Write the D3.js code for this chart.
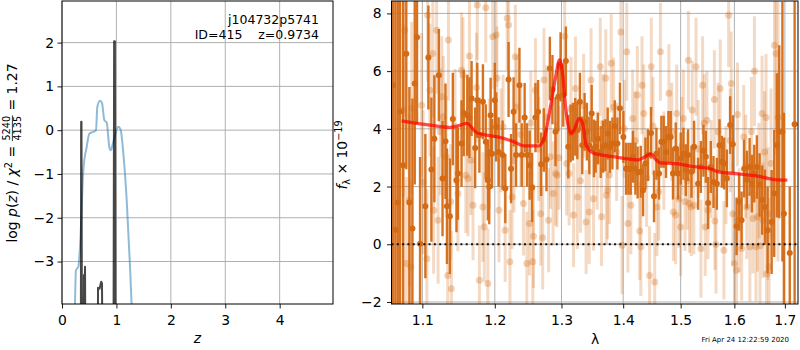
<!DOCTYPE html>
<html><head><meta charset="utf-8">
<script src="https://cdn.jsdelivr.net/npm/d3@7"></script>
<style>body{margin:0;background:#fff} svg{display:block} text{font-family:"DejaVu Sans",sans-serif;fill:#000}</style>
</head><body><svg id="c" width="800" height="350"></svg>
<script>
// ---------------- data: left panel (redshift PDF) ----------------
const zTicks = [0, 1, 2, 3, 4];
const logpTicks = [-3, -2, -1, 0, 1, 2];
const pdfZ = [0.235,0.257,0.30,0.331,0.392,0.454,0.502,0.575,0.625,0.649,0.699,0.735,0.778,0.822,0.869,0.895,0.943,1.035,1.079,1.127,1.189,1.25,1.29];
const pdfLogp = [-4.2,-3.2,-3.12,-2.66,-0.91,-0.38,-0.08,-0.04,0.0,0.53,0.67,0.62,0.23,0.17,-0.38,-0.46,-0.27,0.08,0.0,-0.53,-1.6,-3.12,-4.3];
const chiZ = [0.32,0.345,0.352,0.358,0.368,0.395,0.403,0.413,0.423,0.433,0.655,0.662,0.69,0.72,0.735,0.748,0.945,0.958,0.965,0.972,0.985,1.0,1.05];
const chiLogp = [-6,-6,0.19,0.19,-6,-6,-3.31,-3.65,-3.12,-6,-6,-3.6,-3.62,-3.46,-3.5,-6,-6,2.03,2.03,2.03,-6,-6,-6];

// ---------------- data: right panel (spectrum) ----------------
const waveTicks = [1.1, 1.2, 1.3, 1.4, 1.5, 1.6, 1.7];
const fluxTicks = [-2, 0, 2, 4, 6, 8];
const darkWave = [
1.062,1.065,1.068,1.071,1.075,1.079,1.083,1.087,1.090,1.093,
1.097,1.104,1.108,1.112,1.116,1.122,1.127,1.131,1.133,1.137,
1.141,1.146,1.148,1.153,1.156,1.161,1.164,1.167,1.172,1.175,
1.178,1.183,1.187,1.190,1.192,1.194,1.196,1.200,1.202,1.2055,
1.2113,1.2152,1.220,1.2236,1.2274,1.231,1.236,1.2394,1.2438,1.2474,
1.2513,1.255,1.260,1.264,1.2687,1.2727,1.2768,1.282,1.286,1.2907,
1.295,1.2986,1.3028,1.3069,1.3107,1.3143,1.318,1.3217,1.325,1.3291,
1.3329,1.3366,1.3403,1.3442,1.348,1.3517,1.3545,1.3582,1.3627,1.3665,
1.3705,1.3742,1.378,1.382,1.3859,1.3903,1.3946,1.4003,1.4048,1.4089,
1.4127,1.4166,1.4207,1.4245,1.4298,1.4338,1.4379,1.4424,1.4476,1.4528,
1.457,1.4615,1.4657,1.4698,1.4739,1.4782,1.4822,1.4863,1.4912,1.4953,
1.5002,1.5051,1.5093,1.5135,1.5197,1.5244,1.5317,1.5368,1.5417,1.546,
1.5503,1.5553,1.5604,1.5667,1.5717,1.5761,1.5805,1.5856,1.5919,1.597,
1.6042,1.6092,1.6139,1.6189,1.6242,1.6295,1.634,1.6386,1.6438,1.6492,
1.6543,1.6598,1.6651,1.6732,1.6784,1.6838,1.6885,1.695,1.698,1.710,
1.720];
const darkFlux = [
5.51,0.5,1.45,4.6,2.74,6.6,1.45,0.55,5.57,7.17,
0.02,1.32,6.47,2.59,3.66,5.86,2.28,3.57,1.32,0.97,
4.34,2.22,2.45,3.49,4.55,4.47,4.39,5.05,3.34,4.99,
3.78,4.94,3.55,2.22,1.99,4.47,3.14,4.99,4.07,3.2,
3.09,1.93,5.71,2.62,4.59,3.09,5.51,3.09,4.39,3.09,
2.74,1.97,4.39,4.59,2.77,3.61,2.94,6.09,5.36,3.9,
5.11,6.15,5.17,6.35,3.38,3.84,3.9,4.07,3.95,4.94,
3.43,4.24,3.9,3.43,4.53,3.32,3.38,3.66,3.2,3.38,
3.43,3.84,3.38,3.49,4.09,3.49,4.71,3.72,2.62,2.62,
2.62,3.03,2.62,2.49,2.51,1.87,2.8,3.09,3.86,1.66,
3.14,2.45,3.55,3.55,3.2,3.72,3.72,2.45,3.32,2.45,
2.97,3.14,2.57,3.09,2.51,3.38,2.1,2.68,3.24,3.03,
1.43,2.68,2.16,2.1,3.43,2.86,2.8,2.28,4.13,3.47,
0.62,1.47,0.83,2.62,2.24,2.68,2.1,2.45,2.68,2.05,
1.53,1.29,0.49,0.77,1.76,3.43,3.9,3.9,1.06,-0.3,
4.16];
const darkErr = [
9,9,9,9,6,4,4,4.5,3.5,3,
3,2.5,1.8,2.5,2.2,1.6,2,2,2,2,
1.6,1.8,1.6,1.5,1.5,1.4,1.4,1.3,1.4,1.3,
1.3,1.3,1.3,1.4,1.3,1.3,1.2,1.3,1.2,1.2,
1.2,1.2,1.3,1.2,1.2,1.1,1.3,1.1,1.2,1.1,
1.2,1.2,1.2,1.1,1.1,1.1,1.1,1.1,1.2,1.2,
1.2,1.2,1.1,1.2,1.1,1,1,1,1,1,
1,1,1,1,1,1,0.9,0.9,0.9,0.9,
0.9,0.9,0.9,0.9,0.9,0.9,0.9,0.9,0.9,0.9,
0.9,0.9,0.9,0.9,0.9,0.9,0.9,0.9,0.9,0.9,
0.9,0.9,0.9,0.9,0.9,0.9,0.9,0.9,0.9,0.9,
0.9,0.9,0.9,0.9,0.9,0.9,0.9,0.9,0.9,0.9,
0.9,0.9,0.9,0.9,0.9,0.9,0.9,1,1,1,
1,1,1,1,1,1,1,1,1.1,1.1,
1.2,1.3,1.5,1.8,2.2,2.5,3,4.5,3.5,2.3,
9];
const lightWave = [
1.075,1.077,1.079,1.083,1.085,1.086,1.099,1.101,1.106,1.107,
1.110,1.114,1.115,1.119,1.121,1.124,1.126,1.128,1.132,1.134,
1.135,1.138,1.139,1.144,1.148,1.153,1.155,1.159,1.162,1.164,
1.166,1.169,1.174,1.175,1.178,1.183,1.185,1.187,1.190,1.192,
1.197,1.202,1.203,1.206,1.209,1.212,1.215,1.218,1.220,1.222,
1.225,1.228,1.230,1.232,1.238,1.242,1.247,1.251,1.253,1.256,
1.257,1.260,1.265,1.268,1.271,1.273,1.277,1.280,1.283,1.287,
1.291,1.293,1.296,1.305,1.308,1.312,1.315,1.319,1.322,1.325,
1.330,1.335,1.339,1.344,1.347,1.351,1.357,1.362,1.364,1.367,
1.371,1.372,1.374,1.377,1.380,1.384,1.389,1.396,1.398,1.402,
1.406,1.408,1.413,1.416,1.420,1.424,1.428,1.430,1.432,1.435,
1.440,1.445,1.448,1.451,1.454,1.458,1.461,1.464,1.470,1.479,
1.484,1.487,1.491,1.493,1.497,1.500,1.502,1.505,1.508,1.512,
1.514,1.516,1.519,1.521,1.524,1.528,1.532,1.537,1.540,1.543,
1.545,1.548,1.550,1.556,1.562,1.563,1.565,1.569,1.573,1.580,
1.584,1.589,1.592,1.594,1.597,1.600,1.604,1.606,1.609,1.614,
1.618,1.622,1.624,1.630,1.633,1.636,1.639,1.642,1.645,1.648,
1.650,1.654,1.656,1.659,1.662,1.663,1.666,1.668,1.672,1.679,
1.682,1.686];
const lightFlux = [
4.65,7.42,-0.67,1.53,-0.79,4.71,4.82,2.16,-0.5,7.94,
5.34,6.61,1.18,7.42,0.83,3.9,5.11,4.42,3.03,-1.08,
7.08,1.47,-1.54,4.07,1.76,6.03,5.86,2.39,2.28,6.52,
2.91,1.35,5.43,8.29,-1.25,1.29,0.6,8.2,-1.36,3.14,
7.19,7.25,5.75,1.18,3.6,4.07,0.49,7.83,7.6,-0.61,
1.64,2.9,6.5,4.76,3.8,1.41,-0.67,0.72,4.2,-0.61,
0.28,5.34,3.3,1.06,0.23,5.69,4.4,0.83,3.03,1.76,
2.45,2.39,3.0,7.21,2.8,2.45,4.7,1.01,5.4,1.64,
2.2,4.8,0.77,1.12,5.69,1.58,2.9,6.15,0.95,4.2,
5.75,1.7,1.87,2.4,6.27,4.76,3.2,7.36,-0.03,4.0,
6.67,0.72,1.35,4.36,3.6,5.17,0.46,-0.09,5.51,4.53,
2.3,-1.08,6.15,4.1,-1.31,1.29,1.82,6.67,2.9,5.23,
3.9,1.12,1.01,4.53,1.58,0.6,3.4,4.36,1.47,2.2,
6.38,1.41,1.29,4.65,1.35,6.15,3.3,-0.15,5.51,4.19,
0.6,4.3,1.18,2.6,5.02,0.81,-0.01,3.9,5.4,-0.21,
2.4,7.94,3.6,5.57,1.06,-0.67,-0.9,4.5,0.83,-0.15,
3.72,2.7,1.29,-0.09,3.9,0.89,6.0,-0.09,0.95,2.2,
-0.05,4.53,0.83,3.2,4.39,-1.02,1.06,-0.79,2.8,6.9,
6.61,4.4];
const lightErr = [
3,3,3,3,3,3,2.5,2.5,2.4,2.3,
2.3,2.2,2.2,2.2,2.2,2.2,2.1,2.1,2.1,2.1,
2.1,2,2,2,2,2,2,2,2,1.9,
1.9,1.9,1.9,1.9,1.9,1.9,1.9,1.9,1.9,1.9,
1.8,1.8,1.8,1.8,1.8,1.8,1.8,1.8,1.8,1.8,
1.8,1.8,1.8,1.8,1.8,1.8,1.8,1.8,1.8,1.8,
1.8,1.8,1.8,1.8,1.8,1.8,1.8,1.8,1.8,1.8,
1.8,1.8,1.8,1.8,1.8,1.8,1.8,1.8,1.8,1.8,
1.8,1.8,1.8,1.8,1.8,1.8,1.7,1.7,1.7,1.7,
1.7,1.7,1.7,1.7,1.7,1.7,1.7,1.7,1.7,1.7,
1.7,1.7,1.7,1.7,1.7,1.7,1.7,1.7,1.7,1.7,
1.7,1.7,1.7,1.7,1.7,1.7,1.7,1.7,1.7,1.7,
1.7,1.7,1.7,1.7,1.7,1.7,1.7,1.7,1.7,1.7,
1.7,1.7,1.7,1.7,1.7,1.7,1.7,1.7,1.7,1.7,
1.7,1.7,1.7,1.7,1.7,1.7,1.7,1.7,1.7,1.7,
1.7,1.8,1.8,1.8,1.8,1.8,1.8,1.8,1.8,1.8,
1.8,1.8,1.8,1.9,1.9,1.9,1.9,1.9,1.9,2.0,
2.0,2.0,2.0,2.1,2.2,2.2,2.3,2.4,2.6,3.0,
3.5,5];
const modelWave = [1.073,1.110,1.137,1.148,1.160,1.174,1.183,1.206,1.227,1.243,1.265,1.273,1.283,1.291,1.297,1.302,1.307,1.315,1.320,1.328,1.334,1.339,1.352,1.374,1.401,1.424,1.438,1.447,1.456,1.464,1.494,1.519,1.550,1.568,1.607,1.646,1.679,1.705];
const modelFlux = [4.28,4.13,4.05,4.10,4.19,3.87,3.81,3.71,3.56,3.41,3.41,3.66,4.77,5.81,6.39,5.86,4.65,3.84,3.96,4.36,4.13,3.43,3.15,3.06,2.98,2.92,3.04,3.13,2.94,2.82,2.79,2.70,2.64,2.52,2.44,2.36,2.24,2.22];

const objName = "j104732p5741";
const objInfo = "ID=415    z=0.9734";
const dateText = "Fri Apr 24 12:22:59 2020";

// ---------------- drawing ----------------
const svg = d3.select('#c');
const FS = 13.9, FSS = 9.7;
const DARK = '#d46a14';

function grid(g, xs, ys, xScale, yScale, x0, x1, y0, y1) {
  g.selectAll('.gx').data(xs).enter().append('line')
    .attr('x1', d => xScale(d)).attr('x2', d => xScale(d)).attr('y1', y0).attr('y2', y1)
    .attr('stroke', '#b0b0b0').attr('stroke-width', 1);
  g.selectAll('.gy').data(ys).enter().append('line')
    .attr('y1', d => yScale(d)).attr('y2', d => yScale(d)).attr('x1', x0).attr('x2', x1)
    .attr('stroke', '#b0b0b0').attr('stroke-width', 1);
}
function styleAxis(sel) {
  sel.select('.domain').remove();
  sel.selectAll('text').attr('font-size', FS).attr('font-family', '"DejaVu Sans", sans-serif').attr('fill', '#000');
  sel.selectAll('line').attr('stroke', '#000').attr('stroke-width', 0.9);
}
function mathText(parent, parts) {
  const g = parent.append('g');
  let x = 0;
  parts.forEach(p => {
    const size = p.size || FS;
    if (p.frac) {
      const num = g.append('text').attr('font-size', size).text(p.frac[0]);
      const den = g.append('text').attr('font-size', size).text(p.frac[1]);
      const w = Math.max(num.node().getComputedTextLength(), den.node().getComputedTextLength());
      num.attr('x', x + 1 + w / 2).attr('y', p.numY).attr('text-anchor', 'middle');
      den.attr('x', x + 1 + w / 2).attr('y', p.denY).attr('text-anchor', 'middle');
      g.append('line').attr('x1', x + 0.5).attr('x2', x + w + 1.5).attr('y1', p.barY).attr('y2', p.barY)
        .attr('stroke', '#000').attr('stroke-width', 0.8);
      x += w + 2;
    } else {
      const t = g.append('text').attr('font-size', size).attr('x', x).attr('y', p.dy || 0)
        .style('white-space', 'pre').text(p.t);
      if (p.italic) t.attr('font-style', 'italic');
      x += t.node().getComputedTextLength();
    }
  });
  g.attr('transform', `translate(${-x / 2},0)`);
  return g;
}

// ---- left panel ----
const LP = {x0: 62, x1: 333, y0: 1, y1: 304};
const xz = d3.scaleLinear().domain([0, 4.98]).range([LP.x0, LP.x1]);
const yp = d3.scaleLinear().domain([-3.97, 2.95]).range([LP.y1, LP.y0]);
svg.append('defs').html(
  `<clipPath id="clipL"><rect x="${LP.x0}" y="${LP.y0}" width="${LP.x1 - LP.x0}" height="${LP.y1 - LP.y0}"/></clipPath>`);
const gl = svg.append('g');
grid(gl, zTicks, logpTicks, xz, yp, LP.x0, LP.x1, LP.y0, LP.y1);
const pdfData = pdfZ.map((z, i) => [z, pdfLogp[i]]);
const chiData = chiZ.map((z, i) => [z, chiLogp[i]]);
const gLc = gl.append('g').attr('clip-path', 'url(#clipL)');
gLc.append('path').datum(pdfData)
  .attr('d', d3.line().x(d => xz(d[0])).y(d => yp(d[1])).curve(d3.curveMonotoneX))
  .attr('fill', 'none').attr('stroke', '#1f77b4').attr('stroke-opacity', 0.5).attr('stroke-width', 2);
gLc.append('path').datum(chiData)
  .attr('d', d3.line().x(d => xz(d[0])).y(d => yp(d[1])))
  .attr('fill', 'none').attr('stroke', '#000').attr('stroke-opacity', 0.72).attr('stroke-width', 2).attr('stroke-linejoin', 'round');
const axLx = gl.append('g').attr('transform', `translate(0,${LP.y1})`)
  .call(d3.axisBottom(xz).tickValues(zTicks).tickFormat(d3.format('d')).tickSizeInner(4.5).tickSizeOuter(0).tickPadding(6.3));
styleAxis(axLx);
const axLy = gl.append('g').attr('transform', `translate(${LP.x0},0)`)
  .call(d3.axisLeft(yp).tickValues(logpTicks).tickFormat(d3.format('d')).tickSizeInner(4.5).tickSizeOuter(0).tickPadding(3.5));
styleAxis(axLy);
gl.append('rect').attr('x', LP.x0).attr('y', LP.y0).attr('width', LP.x1 - LP.x0).attr('height', LP.y1 - LP.y0)
  .attr('fill', 'none').attr('stroke', '#000').attr('stroke-width', 1);
gl.append('text').attr('x', 319).attr('y', 24).attr('text-anchor', 'end').attr('font-size', 12.5).text(objName);
gl.append('text').attr('x', 319).attr('y', 38.5).attr('text-anchor', 'end').attr('font-size', 12.5)
  .style('white-space', 'pre').text(objInfo);
gl.append('text').attr('x', (LP.x0 + LP.x1) / 2).attr('y', 343).attr('text-anchor', 'middle')
  .attr('font-size', FS).attr('font-style', 'italic').text('z');
const ylabL = gl.append('g').attr('transform', 'translate(17,153) rotate(-90)');
mathText(ylabL, [
  {t: 'log '}, {t: 'p', italic: true}, {t: '('}, {t: 'z', italic: true}, {t: ') / '},
  {t: 'χ', italic: true}, {t: '2', size: FSS, dy: -5.5}, {t: ' = '},
  {frac: ['5240', '4135'], size: FSS, numY: -7, denY: 3.5, barY: -4.6}, {t: ' = 1.27'}
]);

// ---- right panel ----
const RP = {x0: 391.5, x1: 798, y0: 1, y1: 304};
const xw = d3.scaleLog().domain([1.06, 1.727]).range([RP.x0, RP.x1]);
const yf = d3.scaleLinear().domain([-2.07, 8.43]).range([RP.y1, RP.y0]);
svg.select('defs').append('clipPath').attr('id', 'clipR').append('rect')
  .attr('x', RP.x0).attr('y', RP.y0).attr('width', RP.x1 - RP.x0).attr('height', RP.y1 - RP.y0);
const gr = svg.append('g');
grid(gr, waveTicks, fluxTicks, xw, yf, RP.x0, RP.x1, RP.y0, RP.y1);
const gRc = gr.append('g').attr('clip-path', 'url(#clipR)');
const light = lightWave.map((w, i) => ({w, f: lightFlux[i], e: lightErr[i]}));
const dark = darkWave.map((w, i) => ({w, f: darkFlux[i], e: darkErr[i]}));
const gLight = gRc.append('g');
gLight.selectAll('line').data(light).enter().append('line')
  .attr('x1', d => xw(d.w)).attr('x2', d => xw(d.w))
  .attr('y1', d => yf(d.f - d.e)).attr('y2', d => yf(d.f + d.e))
  .attr('stroke', DARK).attr('stroke-opacity', 0.25).attr('stroke-width', 3);
gLight.selectAll('circle').data(light).enter().append('circle')
  .attr('cx', d => xw(d.w)).attr('cy', d => yf(d.f)).attr('r', 3.5)
  .attr('fill', DARK).attr('fill-opacity', 0.3);
const gDark = gRc.append('g');
gDark.selectAll('line').data(dark).enter().append('line')
  .attr('x1', d => xw(d.w)).attr('x2', d => xw(d.w))
  .attr('y1', d => yf(d.f - d.e)).attr('y2', d => yf(d.f + d.e))
  .attr('stroke', DARK).attr('stroke-opacity', 0.95).attr('stroke-width', 2.4);
gDark.selectAll('circle').data(dark).enter().append('circle')
  .attr('cx', d => xw(d.w)).attr('cy', d => yf(d.f)).attr('r', 3)
  .attr('fill', DARK);
gRc.append('line').attr('x1', RP.x0).attr('x2', RP.x1).attr('y1', yf(0)).attr('y2', yf(0))
  .attr('stroke', '#111').attr('stroke-width', 2).attr('stroke-dasharray', '2,3.3');
const model = modelWave.map((w, i) => [w, modelFlux[i]]);
gRc.append('path').datum(model)
  .attr('d', d3.line().x(d => xw(d[0])).y(d => yf(d[1])).curve(d3.curveMonotoneX))
  .attr('fill', 'none').attr('stroke', '#ff0000').attr('stroke-opacity', 0.7).attr('stroke-width', 3.3)
  .attr('stroke-linejoin', 'round');
const axRx = gr.append('g').attr('transform', `translate(0,${RP.y1})`)
  .call(d3.axisBottom(xw).tickValues(waveTicks).tickFormat(d3.format('.1f')).tickSizeInner(4.5).tickSizeOuter(0).tickPadding(6.3));
styleAxis(axRx);
const axRy = gr.append('g').attr('transform', `translate(${RP.x0},0)`)
  .call(d3.axisLeft(yf).tickValues(fluxTicks).tickFormat(d3.format('d')).tickSizeInner(4.5).tickSizeOuter(0).tickPadding(5.5));
styleAxis(axRy);
gr.append('rect').attr('x', RP.x0).attr('y', RP.y0).attr('width', RP.x1 - RP.x0).attr('height', RP.y1 - RP.y0)
  .attr('fill', 'none').attr('stroke', '#000').attr('stroke-width', 1);
gr.append('text').attr('x', 595).attr('y', 344).attr('text-anchor', 'middle').attr('font-size', FS).text('λ');
const ylabR = gr.append('g').attr('transform', 'translate(347,155) rotate(-90)');
mathText(ylabR, [
  {t: 'f', italic: true}, {t: 'λ', size: FSS, dy: 2.5}, {t: ' × 10'}, {t: '−19', size: FSS, dy: -5.5}
]);
svg.append('text').attr('x', 701.5).attr('y', 342).attr('font-size', 7).text(dateText);
</script></body></html>
